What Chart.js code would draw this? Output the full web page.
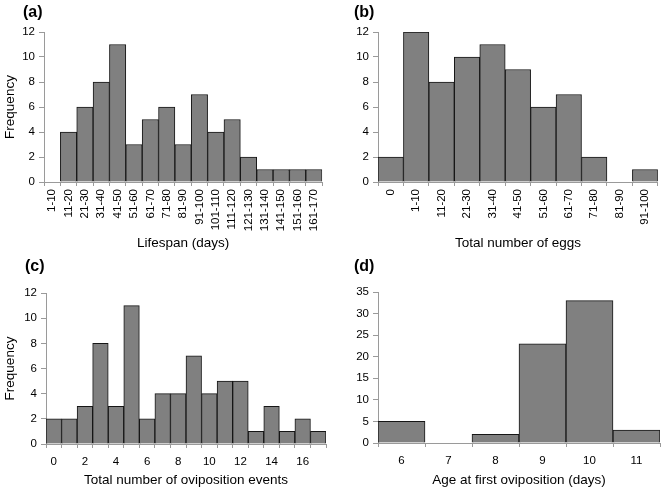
<!DOCTYPE html>
<html>
<head>
<meta charset="utf-8">
<script src="https://cdn.jsdelivr.net/npm/chart.js@4"></script>
<style>
  html, body { margin: 0; padding: 0; background: #fff; }
  #page { position: relative; width: 662px; height: 488px; overflow: hidden; font-family: 'Liberation Sans', Arial, sans-serif; }
  .panel { position: absolute; }
  .tag { position: absolute; font-weight: bold; font-size: 16px; color: #000; }
</style>
</head>
<body>
<div id="page">
  <div class="panel" style="left:0;top:0"><canvas id="chartA" width="331" height="256"></canvas></div>
  <div class="panel" style="left:331px;top:0"><canvas id="chartB" width="331" height="256"></canvas></div>
  <div class="panel" style="left:0;top:244px"><canvas id="chartC" width="331" height="244"></canvas></div>
  <div class="panel" style="left:331px;top:244px"><canvas id="chartD" width="331" height="244"></canvas></div>
  <div class="tag" style="left:23px;top:3px">(a)</div>
  <div class="tag" style="left:354px;top:3px">(b)</div>
  <div class="tag" style="left:25px;top:257px">(c)</div>
  <div class="tag" style="left:354px;top:257px">(d)</div>
</div>
<script>
// histogram data
const lifespanLabels = ['1-10','11-20','21-30','31-40','41-50','51-60','61-70','71-80','81-90',
	'91-100','101-110','111-120','121-130','131-140','141-150','151-160','161-170'];
const lifespanFreq = [0, 4, 6, 8, 11, 3, 5, 6, 3, 7, 4, 5, 2, 1, 1, 1, 1];

const eggLabels = ['0','1-10','11-20','21-30','31-40','41-50','51-60','61-70','71-80','81-90','91-100'];
const eggFreq = [2, 12, 8, 10, 11, 9, 6, 7, 2, 0, 1];

const eventLabels = ['0','1','2','3','4','5','6','7','8','9','10','11','12','13','14','15','16','17'];
const eventFreq = [2, 2, 3, 8, 3, 11, 2, 4, 4, 7, 4, 5, 5, 1, 3, 1, 2, 1];

const ageLabels = ['6','7','8','9','10','11'];
const ageFreq = [5, 0, 2, 23, 33, 3];

const FONT = "'Liberation Sans', Arial, sans-serif";
const AXIS_GREY = '#9a9a9a';

function makeHist(id, labels, values, o) {
	const ctx = document.getElementById(id).getContext('2d');
	return new Chart(ctx, {
		type: 'bar',
		data: {
			labels: labels,
			datasets: [{
				data: values,
				backgroundColor: '#808080',
				borderColor: '#161616',
				borderWidth: 1,
				categoryPercentage: 1,
				barPercentage: 1
			}]
		},
		options: {
			responsive: false,
			animation: false,
			layout: { padding: o.pad },
			plugins: { legend: { display: false }, tooltip: { enabled: false } },
			scales: {
				x: {
					grid: { drawOnChartArea: false, tickLength: 4, color: AXIS_GREY },
					border: { color: AXIS_GREY },
					ticks: {
						color: '#000',
						font: { family: FONT, size: 11.5 },
						autoSkip: false,
						minRotation: o.rot, maxRotation: o.rot,
						padding: o.xPad,
						callback: o.xCb || function(v, i) { return labels[i]; }
					},
					title: {
						display: true, text: o.xTitle, color: '#000',
						font: { family: FONT, size: 13.5 },
						padding: { top: 0, bottom: o.xTitlePad }
					},
					afterFit: s => { s.height = o.xH; }
				},
				y: {
					min: 0, max: o.yMax,
					grid: { drawOnChartArea: false, tickLength: 5, color: AXIS_GREY },
					border: { color: AXIS_GREY },
					ticks: { stepSize: o.yStep, color: '#000', font: { family: FONT, size: 11.5 }, padding: 4 },
					title: {
						display: !!o.yTitle, text: o.yTitle || '', color: '#000',
						font: { family: FONT, size: 13.5 },
						padding: { top: 2, bottom: 0 }
					},
					afterFit: s => { s.width = o.yW; }
				}
			}
		}
	});
}

makeHist('chartA', lifespanLabels, lifespanFreq, {
	pad: { top: 32, right: 8, left: 0, bottom: 0 }, yW: 44, xH: 74,
	rot: 90, xPad: 3, xTitle: 'Lifespan (days)', xTitlePad: 5,
	yMax: 12, yStep: 2, yTitle: 'Frequency'
});
makeHist('chartB', eggLabels, eggFreq, {
	pad: { top: 32, right: 2, left: 0, bottom: 0 }, yW: 47, xH: 74,
	rot: 90, xPad: 3, xTitle: 'Total number of eggs', xTitlePad: 5,
	yMax: 12, yStep: 2
});
makeHist('chartC', eventLabels, eventFreq, {
	pad: { top: 49, right: 5, left: 0, bottom: 0 }, yW: 46, xH: 44,
	rot: 0, xPad: 7, xTitle: 'Total number of oviposition events', xTitlePad: 0,
	xCb: (v, i) => i % 2 === 0 ? eventLabels[i] : '',
	yMax: 12, yStep: 2, yTitle: 'Frequency'
});
makeHist('chartD', ageLabels, ageFreq, {
	pad: { top: 48, right: 2, left: 0, bottom: 0 }, yW: 47, xH: 45,
	rot: 0, xPad: 7, xTitle: 'Age at first oviposition (days)', xTitlePad: 0,
	yMax: 35, yStep: 5
});
</script>
</body>
</html>
